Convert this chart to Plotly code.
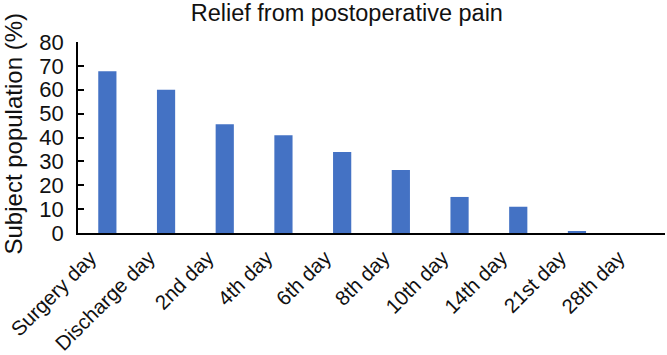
import plotly.graph_objects as go

categories = ["Surgery day", "Discharge day", "2nd day", "4th day", "6th day",
              "8th day", "10th day", "14th day", "21st day", "28th day"]
values = [67.7, 60.0, 45.5, 40.9, 33.9, 26.4, 15.1, 11.0, 0.8, 0.0]
y_ticks = [0, 10, 20, 30, 40, 50, 60, 70, 80]

FONT = "Arial, Liberation Sans, Helvetica, sans-serif"
TXT = "#111111"
W, H = 667, 355
L, R, T, B = 78, 2, 42, 122
PW, PH = W - L - R, H - T - B

fig = go.Figure(go.Bar(
    x=categories, y=values,
    marker=dict(color="#4472C4", line=dict(width=0)),
))

fig.update_layout(
    width=W, height=H,
    margin=dict(l=L, r=R, t=T, b=B),
    paper_bgcolor="white", plot_bgcolor="white",
    bargap=0.69,
    showlegend=False,
    font=dict(family=FONT, color=TXT, size=21),
    title=dict(text="Relief from postoperative pain", x=0.52, xanchor="center",
               y=1 - 13 / H, yanchor="middle", yref="container",
               font=dict(family=FONT, size=23.5, color=TXT)),
    annotations=[dict(
        text="Subject population (%)", xref="paper", yref="paper",
        x=(12.5 - L) / PW, y=(H - B - 134) / PH, xanchor="center", yanchor="middle",
        textangle=-90, showarrow=False,
        font=dict(family=FONT, size=24, color=TXT),
    )],
)
fig.update_xaxes(
    showline=True, linecolor="black", linewidth=1.5,
    ticks="", tickangle=-45, showgrid=False, automargin=False,
    ticklabelstandoff=3, ticklabelshift=-17,
    tickfont=dict(family=FONT, size=20.5, color=TXT),
)
fig.update_yaxes(
    range=[0, 80], tickvals=y_ticks, showline=True, linecolor="black", linewidth=1.5,
    ticks="inside", ticklen=6, tickwidth=1.5, tickcolor="black",
    showgrid=False, zeroline=False, ticklabelstandoff=8, automargin=False,
    tickfont=dict(family=FONT, size=22, color=TXT),
)

fig.write_html("out.html", config={"displayModeBar": False},
               post_script="document.body.style.margin='0';")
